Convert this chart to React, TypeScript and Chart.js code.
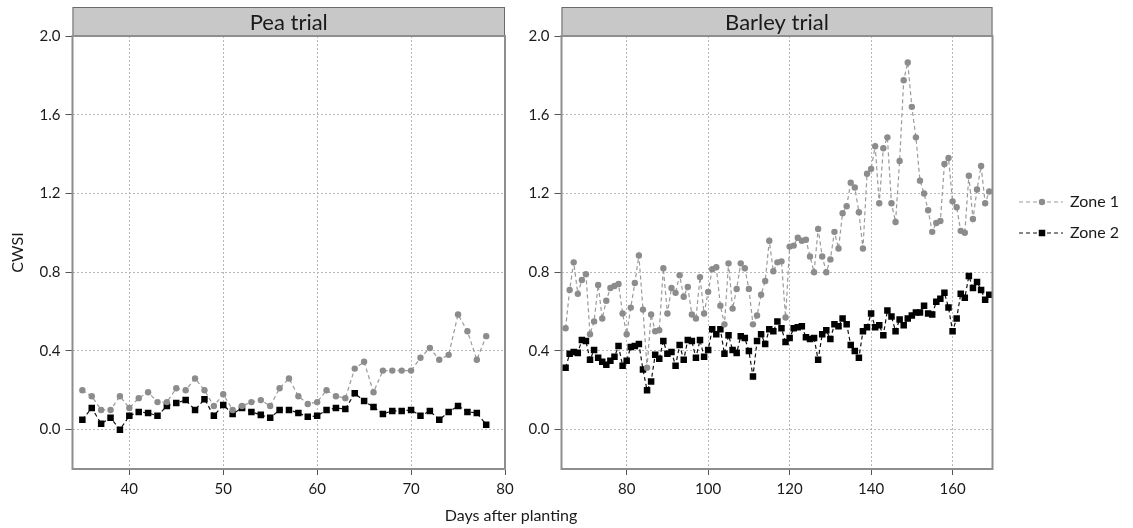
import { useEffect, useRef } from 'react';
import { Chart, registerables } from 'chart.js';

Chart.register(...registerables);

// ---- data -------------------------------------------------------------
const peaDays = [
  35, 36, 37, 38, 39, 40, 41, 42, 43, 44, 45, 46, 47, 48, 49, 50, 51, 52, 53, 54, 55, 56,
  57, 58, 59, 60, 61, 62, 63, 64, 65, 66, 67, 68, 69, 70, 71, 72, 73, 74, 75, 76, 77, 78,
];
const peaZone1 = [
  0.2, 0.17, 0.1, 0.1, 0.17, 0.11, 0.16, 0.19, 0.14, 0.14, 0.21, 0.2, 0.26, 0.2, 0.12, 0.18, 0.1,
  0.12, 0.14, 0.15, 0.12, 0.21, 0.26, 0.17, 0.13, 0.14, 0.2, 0.17, 0.16, 0.31, 0.345, 0.19, 0.3,
  0.3, 0.3, 0.3, 0.365, 0.415, 0.355, 0.38, 0.585, 0.5, 0.355, 0.475,
];
const peaZone2 = [
  0.05, 0.11, 0.03, 0.06, 0.0, 0.07, 0.09, 0.085, 0.07, 0.12, 0.135, 0.15, 0.1, 0.155, 0.07, 0.125,
  0.08, 0.11, 0.09, 0.075, 0.06, 0.1, 0.1, 0.085, 0.065, 0.07, 0.1, 0.11, 0.105, 0.185, 0.145,
  0.115, 0.08, 0.095, 0.095, 0.1, 0.07, 0.095, 0.05, 0.09, 0.12, 0.09, 0.085, 0.025,
];

const barleyDays = [
  65, 66, 67, 68, 69, 70, 71, 72, 73, 74, 75, 76, 77, 78, 79, 80, 81, 82, 83, 84, 85, 86, 87, 88,
  89, 90, 91, 92, 93, 94, 95, 96, 97, 98, 99, 100, 101, 102, 103, 104, 105, 106, 107, 108, 109,
  110, 111, 112, 113, 114, 115, 116, 117, 118, 119, 120, 121, 122, 123, 124, 125, 126, 127, 128,
  129, 130, 131, 132, 133, 134, 135, 136, 137, 138, 139, 140, 141, 142, 143, 144, 145, 146, 147,
  148, 149, 150, 151, 152, 153, 154, 155, 156, 157, 158, 159, 160, 161, 162, 163, 164, 165, 166,
  167, 168, 169,
];
const barleyZone1 = [
  0.515, 0.71, 0.85, 0.69, 0.76, 0.79, 0.485, 0.55, 0.735, 0.565, 0.655, 0.72, 0.73, 0.74, 0.59,
  0.485, 0.62, 0.745, 0.885, 0.61, 0.315, 0.585, 0.5, 0.505, 0.82, 0.59, 0.72, 0.695, 0.785,
  0.675, 0.725, 0.585, 0.565, 0.775, 0.59, 0.7, 0.815, 0.825, 0.63, 0.535, 0.845, 0.615, 0.715,
  0.845, 0.82, 0.715, 0.535, 0.58, 0.685, 0.755, 0.96, 0.805, 0.85, 0.855, 0.57, 0.93, 0.935,
  0.975, 0.96, 0.965, 0.88, 0.8, 1.02, 0.88, 0.8, 0.865, 1.005, 0.92, 1.1, 1.135, 1.255, 1.23,
  1.105, 0.92, 1.3, 1.325, 1.44, 1.15, 1.43, 1.485, 1.15, 1.055, 1.365, 1.775, 1.865, 1.64, 1.485,
  1.265, 1.2, 1.115, 1.005, 1.05, 1.06, 1.35, 1.38, 1.16, 1.13, 1.01, 1.0, 1.29, 1.07, 1.22, 1.34,
  1.15, 1.21,
];
const barleyZone2 = [
  0.315, 0.385, 0.395, 0.39, 0.455, 0.45, 0.355, 0.405, 0.365, 0.345, 0.33, 0.35, 0.37, 0.425,
  0.325, 0.35, 0.42, 0.425, 0.435, 0.305, 0.2, 0.245, 0.38, 0.36, 0.45, 0.385, 0.395, 0.325, 0.43,
  0.355, 0.455, 0.45, 0.365, 0.455, 0.37, 0.405, 0.51, 0.485, 0.51, 0.385, 0.48, 0.405, 0.39,
  0.475, 0.465, 0.4, 0.27, 0.45, 0.485, 0.435, 0.51, 0.5, 0.55, 0.515, 0.445, 0.465, 0.515, 0.52,
  0.525, 0.47, 0.46, 0.465, 0.355, 0.485, 0.505, 0.46, 0.535, 0.525, 0.565, 0.535, 0.43, 0.4,
  0.365, 0.5, 0.52, 0.59, 0.52, 0.53, 0.48, 0.605, 0.575, 0.5, 0.56, 0.53, 0.565, 0.58, 0.595,
  0.595, 0.63, 0.59, 0.585, 0.65, 0.665, 0.695, 0.62, 0.5, 0.565, 0.69, 0.67, 0.78, 0.72, 0.75,
  0.71, 0.66, 0.685,
];

const peaXTicks = [40, 50, 60, 70, 80];
const barleyXTicks = [80, 100, 120, 140, 160];
const cwsiTicks = [0, 0.4, 0.8, 1.2, 1.6, 2.0];
const seriesNames = ['Zone 1', 'Zone 2'];
const panelTitles = ['Pea trial', 'Barley trial'];

// ---- styling ----------------------------------------------------------
const W = 1133;
const H = 528;
const STRIP_TOP = 7;
const PLOT_TOP = 36;
const PLOT_BOTTOM = 469;
const FONT = "Lato, 'Open Sans', sans-serif";
const ZONE1_LINE = '#9a9a9a';
const ZONE1_POINT = '#8c8c8c';
const ZONE2_LINE = '#111111';
const ZONE2_POINT = '#000000';
const CIRCLE_R = 3.2;
const RECT_R = 4.6;
const GRID = '#b8b8b8';
const FRAME = '#8e8e8e';
const TICK = '#555555';
const TEXT = '#1a1a1a';

type Panel = {
  title: string;
  days: number[];
  zone1: number[];
  zone2: number[];
  xMin: number;
  xMax: number;
  xTicks: number[];
  left: number;
  right: number;
  yWidth: number;
  yTitle: boolean;
};

const panelFrame = (title: string) => ({
  id: 'panelFrame',
  afterDraw(chart: Chart) {
    const { ctx, chartArea: a } = chart;
    ctx.save();
    ctx.fillStyle = '#c8c8c8';
    ctx.fillRect(a.left, STRIP_TOP, a.right - a.left, a.top - STRIP_TOP);
    ctx.strokeStyle = '#6a6a6a';
    ctx.lineWidth = 1;
    ctx.strokeRect(a.left + 0.5, STRIP_TOP + 0.5, a.right - a.left - 1, a.top - STRIP_TOP);
    ctx.fillStyle = TEXT;
    ctx.font = `22px ${FONT}`;
    ctx.textAlign = 'center';
    ctx.textBaseline = 'middle';
    ctx.fillText(title, (a.left + a.right) / 2, (STRIP_TOP + a.top) / 2 + 1);
    ctx.strokeStyle = FRAME;
    ctx.lineWidth = 2;
    ctx.strokeRect(a.left, a.top, a.right - a.left, a.bottom - a.top);
    ctx.restore();
  },
});

const sharedDecor = {
  id: 'sharedDecor',
  afterDraw(chart: Chart) {
    const { ctx } = chart;
    ctx.save();
    ctx.fillStyle = TEXT;
    ctx.font = `16px ${FONT}`;
    ctx.textAlign = 'center';
    ctx.textBaseline = 'middle';
    ctx.fillText('Days after planting', 511, 516);

    // legend
    const rows = [
      { name: seriesNames[0], line: ZONE1_LINE, point: ZONE1_POINT, style: 'circle', r: CIRCLE_R, y: 202 },
      { name: seriesNames[1], line: ZONE2_LINE, point: ZONE2_POINT, style: 'rect', r: RECT_R, y: 233 },
    ];
    rows.forEach((row) => {
      ctx.strokeStyle = row.line;
      ctx.lineWidth = 1.2;
      ctx.setLineDash([4, 3]);
      ctx.beginPath();
      ctx.moveTo(1019, row.y);
      ctx.lineTo(1063, row.y);
      ctx.stroke();
      ctx.setLineDash([]);
      ctx.fillStyle = row.point;
      ctx.beginPath();
      if (row.style === 'circle') {
        ctx.arc(1042, row.y, row.r, 0, Math.PI * 2);
      } else {
        const s = row.r * Math.SQRT1_2;
        ctx.rect(1042 - s, row.y - s, 2 * s, 2 * s);
      }
      ctx.fill();
      ctx.fillStyle = TEXT;
      ctx.font = `16px ${FONT}`;
      ctx.textAlign = 'left';
      ctx.fillText(row.name, 1070, row.y);
    });
    ctx.restore();
  },
};

function buildChart(canvas: HTMLCanvasElement, p: Panel, extra: any[]) {
  const z1 = p.days.map((d, i) => ({ x: d, y: p.zone1[i] }));
  const z2 = p.days.map((d, i) => ({ x: d, y: p.zone2[i] }));
  const tickFont = { family: FONT, size: 15 };
  return new Chart(canvas, {
    type: 'line',
    data: {
      datasets: [
        {
          label: seriesNames[0],
          data: z1,
          borderColor: ZONE1_LINE,
          borderWidth: 1.2,
          borderDash: [4, 3],
          pointStyle: 'circle',
          pointRadius: CIRCLE_R,
          pointBackgroundColor: ZONE1_POINT,
          pointBorderWidth: 0,
          tension: 0,
          fill: false,
        },
        {
          label: seriesNames[1],
          data: z2,
          borderColor: ZONE2_LINE,
          borderWidth: 1.2,
          borderDash: [4, 3],
          pointStyle: 'rect',
          pointRadius: RECT_R,
          pointBackgroundColor: ZONE2_POINT,
          pointBorderWidth: 0,
          tension: 0,
          fill: false,
        },
      ],
    },
    options: {
      responsive: false,
      animation: false,
      devicePixelRatio: 1,
      events: [],
      layout: {
        padding: { left: p.left - p.yWidth, right: W - p.right, top: PLOT_TOP, bottom: 0 },
      },
      plugins: { legend: { display: false }, tooltip: { enabled: false } },
      scales: {
        x: {
          type: 'linear',
          min: p.xMin,
          max: p.xMax,
          afterBuildTicks: (s: any) => {
            s.ticks = p.xTicks.map((v) => ({ value: v }));
          },
          afterFit: (s: any) => {
            s.height = H - PLOT_BOTTOM;
          },
          ticks: {
            autoSkip: false,
            maxRotation: 0,
            padding: 5,
            color: TEXT,
            font: tickFont,
            callback: (v: any) => String(v),
          },
          grid: { color: GRID, lineWidth: 1, tickLength: 6, tickColor: TICK, tickWidth: 1 },
          border: { display: false, dash: [2, 2] },
        },
        y: {
          type: 'linear',
          min: -0.2,
          max: 2.0,
          afterBuildTicks: (s: any) => {
            s.ticks = cwsiTicks.map((v) => ({ value: v }));
          },
          afterFit: (s: any) => {
            s.width = p.yWidth;
          },
          ticks: {
            padding: 5,
            color: TEXT,
            font: tickFont,
            callback: (v: any) => Number(v).toFixed(1),
          },
          title: {
            display: p.yTitle,
            text: 'CWSI',
            color: TEXT,
            font: { family: FONT, size: 16 },
            padding: { top: 8, bottom: 0 },
          },
          grid: { color: GRID, lineWidth: 1, tickLength: 7, tickColor: TICK, tickWidth: 1 },
          border: { display: false, dash: [2, 2] },
        },
      },
    },
    plugins: [panelFrame(p.title), ...extra],
  } as any);
}

export default function App() {
  const peaRef = useRef<HTMLCanvasElement>(null);
  const barleyRef = useRef<HTMLCanvasElement>(null);

  useEffect(() => {
    if (!peaRef.current || !barleyRef.current) return;
    const pea = buildChart(
      peaRef.current,
      {
        title: panelTitles[0],
        days: peaDays,
        zone1: peaZone1,
        zone2: peaZone2,
        xMin: 33.95,
        xMax: 80,
        xTicks: peaXTicks,
        left: 72.5,
        right: 505,
        yWidth: 72.5,
        yTitle: true,
      },
      []
    );
    const barley = buildChart(
      barleyRef.current,
      {
        title: panelTitles[1],
        days: barleyDays,
        zone1: barleyZone1,
        zone2: barleyZone2,
        xMin: 64,
        xMax: 169.8,
        xTicks: barleyXTicks,
        left: 561.5,
        right: 992.5,
        yWidth: 50,
        yTitle: false,
      },
      [sharedDecor]
    );
    return () => {
      pea.destroy();
      barley.destroy();
    };
  }, []);

  const canvasStyle: React.CSSProperties = { position: 'absolute', left: 0, top: 0 };
  return (
    <div style={{ position: 'absolute', left: 0, top: 0, width: W, height: H, background: '#ffffff' }}>
      <canvas ref={peaRef} width={W} height={H} style={canvasStyle} />
      <canvas ref={barleyRef} width={W} height={H} style={canvasStyle} />
    </div>
  );
}
